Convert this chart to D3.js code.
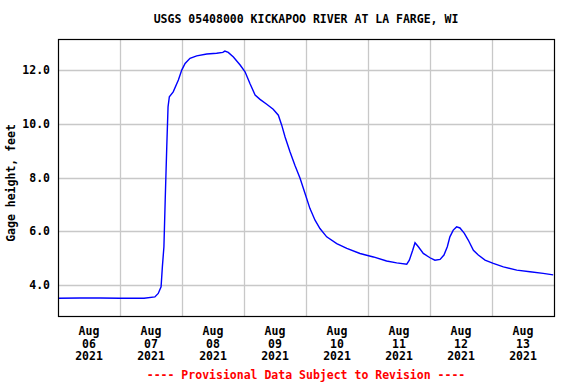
<!DOCTYPE html>
<html>
<head>
<meta charset="utf-8">
<script src="https://cdn.jsdelivr.net/npm/d3@7"></script>
<style>
  body { margin: 0; background: #fff; }
  text { font-family: "DejaVu Sans Mono", monospace; font-weight: bold; }
</style>
</head>
<body>
<div id="chart"></div>
<script>
// Gage height readings, hours since Aug 06 2021 00:00
const hours = [0, 8.5, 16.3, 24, 33.3, 37.5, 38.8, 39.9, 40.4, 41.0, 41.5, 42.1, 42.6, 43.1,
  44.6, 46.6, 47.9, 49.2, 51.1, 53.7, 57.6, 61.4, 63.8, 64.6, 65.9, 67.9, 70.5, 72.4,
  74.3, 76.3, 78.2, 80.8, 83.3, 85.3, 86.6, 87.9, 89.8, 91.7, 93.7, 95.6, 97.5, 99.5,
  101.4, 104.0, 107.9, 111.8, 116.9, 122.1, 127.2, 131.1, 135.0, 136.0, 137.3, 138.2,
  139.5, 141.4, 144.0, 145.9, 147.9, 149.4, 150.7, 151.7, 153.0, 154.3, 155.6, 157.3,
  158.8, 160.8, 162.7, 165.3, 168.5, 172.4, 177.6, 182.7, 187.8, 191.7];
const gageFt = [3.51, 3.52, 3.52, 3.51, 3.51, 3.56, 3.69, 3.94, 4.68, 5.43, 7.17, 9.15, 10.64, 11.02,
  11.2, 11.64, 12.01, 12.26, 12.45, 12.54, 12.61, 12.64, 12.67, 12.72, 12.67, 12.5, 12.2, 11.95,
  11.51, 11.08, 10.92, 10.74, 10.55, 10.33, 9.96, 9.52, 8.97, 8.47, 7.98, 7.42, 6.86, 6.42,
  6.11, 5.80, 5.55, 5.37, 5.18, 5.05, 4.90, 4.83, 4.78, 4.93, 5.30, 5.58,
  5.43, 5.18, 5.02, 4.93, 4.96, 5.12, 5.43, 5.80, 6.05, 6.17, 6.13, 5.93,
  5.68, 5.30, 5.12, 4.93, 4.81, 4.68, 4.56, 4.50, 4.44, 4.38];
const yTicks = [4, 6, 8, 10, 12];
const dayLabels = ['06', '07', '08', '09', '10', '11', '12', '13'];

const start = Date.UTC(2021, 7, 6);
const data = hours.map((h, i) => ({ t: new Date(start + h * 3600e3), v: gageFt[i] }));

const width = 576, height = 384;
const margin = { top: 39, right: 22, bottom: 68, left: 58 };

const svg = d3.select('#chart').append('svg')
    .attr('width', width)
    .attr('height', height);

const x = d3.scaleUtc()
    .domain([new Date(start), new Date(start + 8 * 864e5)])
    .range([margin.left, width - margin.right]);
const y = d3.scaleLinear()
    .domain([2.85, 13.17])
    .range([height - margin.bottom, margin.top]);

// grid
const midnights = d3.range(1, 8).map(d => new Date(start + d * 864e5));
svg.append('g').selectAll('line.v')
    .data(midnights)
    .enter().append('line')
    .attr('x1', d => Math.round(x(d)) + 0.5).attr('x2', d => Math.round(x(d)) + 0.5)
    .attr('y1', y.range()[1]).attr('y2', y.range()[0])
    .style('stroke', '#c8c8c8').style('stroke-width', 1.3);
svg.append('g').selectAll('line.h')
    .data(yTicks)
    .enter().append('line')
    .attr('x1', x.range()[0]).attr('x2', x.range()[1])
    .attr('y1', d => Math.round(y(d)) + 0.5).attr('y2', d => Math.round(y(d)) + 0.5)
    .style('stroke', '#c8c8c8').style('stroke-width', 1.3);

// data line
const line = d3.line()
    .x(d => x(d.t))
    .y(d => y(d.v));
svg.append('path')
    .datum(data)
    .attr('d', line)
    .style('fill', 'none')
    .style('stroke', '#0000ff')
    .style('stroke-width', 1.4);

// frame
svg.append('rect')
    .attr('x', margin.left + 0.5).attr('y', margin.top + 0.5)
    .attr('width', x.range()[1] - margin.left)
    .attr('height', y.range()[0] - margin.top)
    .style('fill', 'none').style('stroke', '#000').style('stroke-width', 1.2);

// y tick labels
svg.append('g').selectAll('text')
    .data(yTicks)
    .enter().append('text')
    .attr('x', 50)
    .attr('y', d => y(d) + 4)
    .attr('text-anchor', 'end')
    .style('font-size', '11.5px')
    .text(d => d3.format('.1f')(d));

// x tick labels (noon of each day)
const noons = dayLabels.map((d, i) => new Date(start + i * 864e5 + 12 * 3600e3));
const xl = svg.append('g').selectAll('text')
    .data(noons)
    .enter().append('text')
    .attr('text-anchor', 'middle')
    .style('font-size', '11.5px');
xl.append('tspan').attr('x', d => x(d)).attr('y', 335).text('Aug');
xl.append('tspan').attr('x', d => x(d)).attr('y', 347.5).text((d, i) => dayLabels[i]);
xl.append('tspan').attr('x', d => x(d)).attr('y', 360).text('2021');

// title, axis label, footer
const cx = (x.range()[0] + x.range()[1]) / 2;
svg.append('text')
    .attr('x', cx).attr('y', 23)
    .attr('text-anchor', 'middle')
    .style('font-size', '11.5px')
    .text('USGS 05408000 KICKAPOO RIVER AT LA FARGE, WI');
svg.append('text')
    .attr('transform', 'translate(15,183) rotate(-90)')
    .attr('text-anchor', 'middle')
    .style('font-size', '11.5px')
    .text('Gage height, feet');
svg.append('text')
    .attr('x', cx).attr('y', 379)
    .attr('text-anchor', 'middle')
    .style('font-size', '11.5px')
    .style('fill', '#ff0000')
    .text('---- Provisional Data Subject to Revision ----');
</script>
</body>
</html>
